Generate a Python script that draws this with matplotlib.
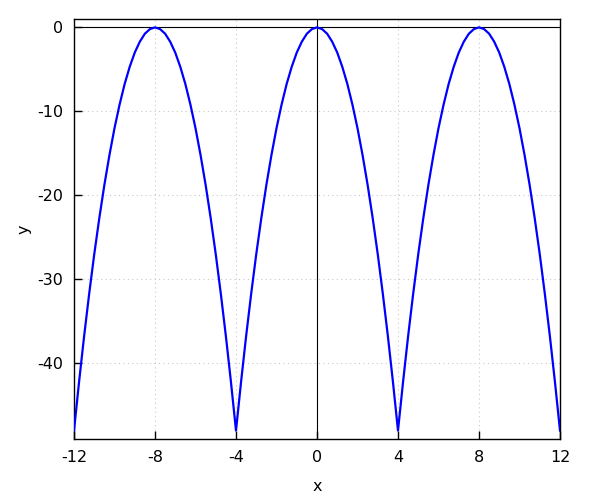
import numpy as np
import matplotlib
matplotlib.use('Agg')
import matplotlib.pyplot as plt

# --- Data ---
x_vals = np.arange(-12, 12.01, 0.25)
y_vals = [
    -48, -42.2, -36.75, -31.7, -27, -22.7, -18.75, -15.2, -12, -9.2, -6.75, -4.7, -3, -1.7, -0.75, -0.2, 0,
    -0.2, -0.75, -1.7, -3, -4.7, -6.75, -9.2, -12, -15.2, -18.75, -22.7, -27, -31.7, -36.75, -42.2, -48,
    -42.2, -36.75, -31.7, -27, -22.7, -18.75, -15.2, -12, -9.2, -6.75, -4.7, -3, -1.7, -0.75, -0.2, 0,
    -0.2, -0.75, -1.7, -3, -4.7, -6.75, -9.2, -12, -15.2, -18.75, -22.7, -27, -31.7, -36.75, -42.2, -48,
    -42.2, -36.75, -31.7, -27, -22.7, -18.75, -15.2, -12, -9.2, -6.75, -4.7, -3, -1.7, -0.75, -0.2, 0,
    -0.2, -0.75, -1.7, -3, -4.7, -6.75, -9.2, -12, -15.2, -18.75, -22.7, -27, -31.7, -36.75, -42.2, -48,
]
x_ticks = [-12, -8, -4, 0, 4, 8, 12]
y_ticks = [0, -10, -20, -30, -40]

# --- Figure ---
fig = plt.figure(figsize=(6, 5), dpi=100)
ax = fig.add_axes([74 / 600, 1 - 439 / 500, (560 - 74) / 600, (439 - 19) / 500])

ax.plot(x_vals, y_vals, color='#0000ff', linewidth=1.6, zorder=3)

# zero axes
ax.axhline(0, color='black', linewidth=0.8, zorder=2)
ax.axvline(0, color='black', linewidth=0.8, zorder=2)

ax.set_xlim(-12, 12)
ax.set_ylim(-49, 1)
ax.set_xticks(x_ticks)
ax.set_xticklabels([str(t) for t in x_ticks])
ax.set_yticks(y_ticks)
ax.set_yticklabels([str(t) for t in y_ticks])
ax.tick_params(direction='in', length=6, width=1, labelsize=11.5, pad=8)
ax.grid(True, color='#c8c8c8', linestyle=(0, (1, 3)), linewidth=0.8)

for s in ax.spines.values():
    s.set_linewidth(1)

ax.set_xlabel('x', fontsize=11.5, labelpad=10)
ax.set_ylabel('y', fontsize=11.5, labelpad=4)

fig.savefig('out.png', dpi=100)
